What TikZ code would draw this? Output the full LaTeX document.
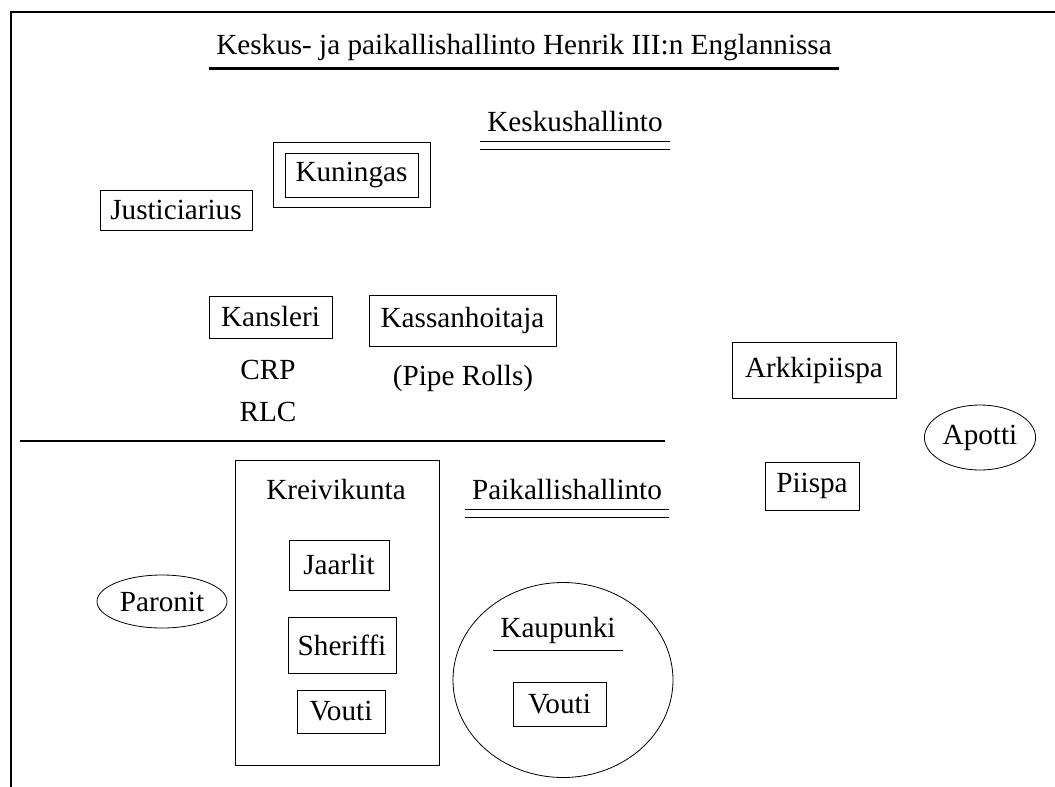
\documentclass[tikz,border=0pt]{standalone}
\usepackage{fontspec}
\setmainfont{Liberation Serif}
\usetikzlibrary{shapes.geometric}

\begin{document}
\begin{tikzpicture}[x=0.5pt, y=-0.5pt, font=\fontsize{14.6}{18}\selectfont,
  box/.style={draw, inner sep=2pt},
  oval/.style={draw, ellipse, inner sep=1pt},
  uline/.style={line width=1.6pt},
  dline/.style={line width=0.8pt}]
\useasboundingbox (0,0) rectangle (1055,787);
% frame
\draw[line width=1pt] (11,787) -- (11,12) -- (1055,12);

% central government
\node (title) at (524,48) {Keskus- ja paikallishallinto Henrik III:n Englannissa};
\draw[uline] (title.south west) -- (title.south east);
\node (central) at (575,122) {Keskushallinto};
\draw[dline] ([yshift=-1pt]central.south west) -- ([yshift=-1pt]central.south east);
\draw[dline] ([yshift=-5pt]central.south west) -- ([yshift=-5pt]central.south east);
\node[draw, minimum width=78.5pt, minimum height=32.5pt] (kingframe) at (351.5,174.5) {};
\node[box, minimum width=66.5pt, minimum height=22pt] (king) at (351.5,175) {Kuningas};
\node[box, minimum width=76pt, minimum height=20pt] (justice) at (176,210) {Justiciarius};
\node[box, minimum width=61.5pt, minimum height=21pt] (chancellor) at (270.5,317) {Kansleri};
\node[box, minimum width=93.5pt, minimum height=25.5pt] (treasurer) at (462.5,320.5) {Kassanhoitaja};
\node (crp) at (268,370) {CRP};
\node (rlc) at (268,412) {RLC};
\node (pipe) at (463,378) {(Pipe Rolls)};
\node[box, minimum width=82pt, minimum height=28pt] (archbishop) at (814,370) {Arkkipiispa};
\node[oval, minimum width=55pt, minimum height=32.5pt] (abbot) at (980,437.5) {Apotti};
\node[box, minimum width=47pt, minimum height=24pt] (bishop) at (812,486) {Piispa};

\draw[line width=1pt] (20,441) -- (665,441);

% local government
\node[draw, minimum width=102pt, minimum height=152.5pt] (county) at (337,612.5) {};
\node (countytxt) at (336,490) {Kreivikunta};
\node (local) at (567,490) {Paikallishallinto};
\draw[dline] ([yshift=-1pt]local.south west) -- ([yshift=-1pt]local.south east);
\draw[dline] ([yshift=-5pt]local.south west) -- ([yshift=-5pt]local.south east);
\node[box, minimum width=50pt, minimum height=25pt] (earls) at (339,565) {Jaarlit};
\node[box, minimum width=54pt, minimum height=28pt] (sheriff) at (342,645) {Sheriffi};
\node[box, minimum width=44pt, minimum height=21.5pt] (bailiff) at (341,711.5) {Vouti};
\node[oval, minimum width=65pt, minimum height=26.5pt] (barons) at (162,601.5) {Paronit};
\node[draw, ellipse, minimum width=110pt, minimum height=97.5pt] (town) at (563,680) {};
\node (towntxt) at (558,630) {Kaupunki};
\draw[dline] (towntxt.south west) -- (towntxt.south east);
\node[box, minimum width=46.5pt, minimum height=22pt] (townbailiff) at (559.5,704) {Vouti};
\end{tikzpicture}
\end{document}
